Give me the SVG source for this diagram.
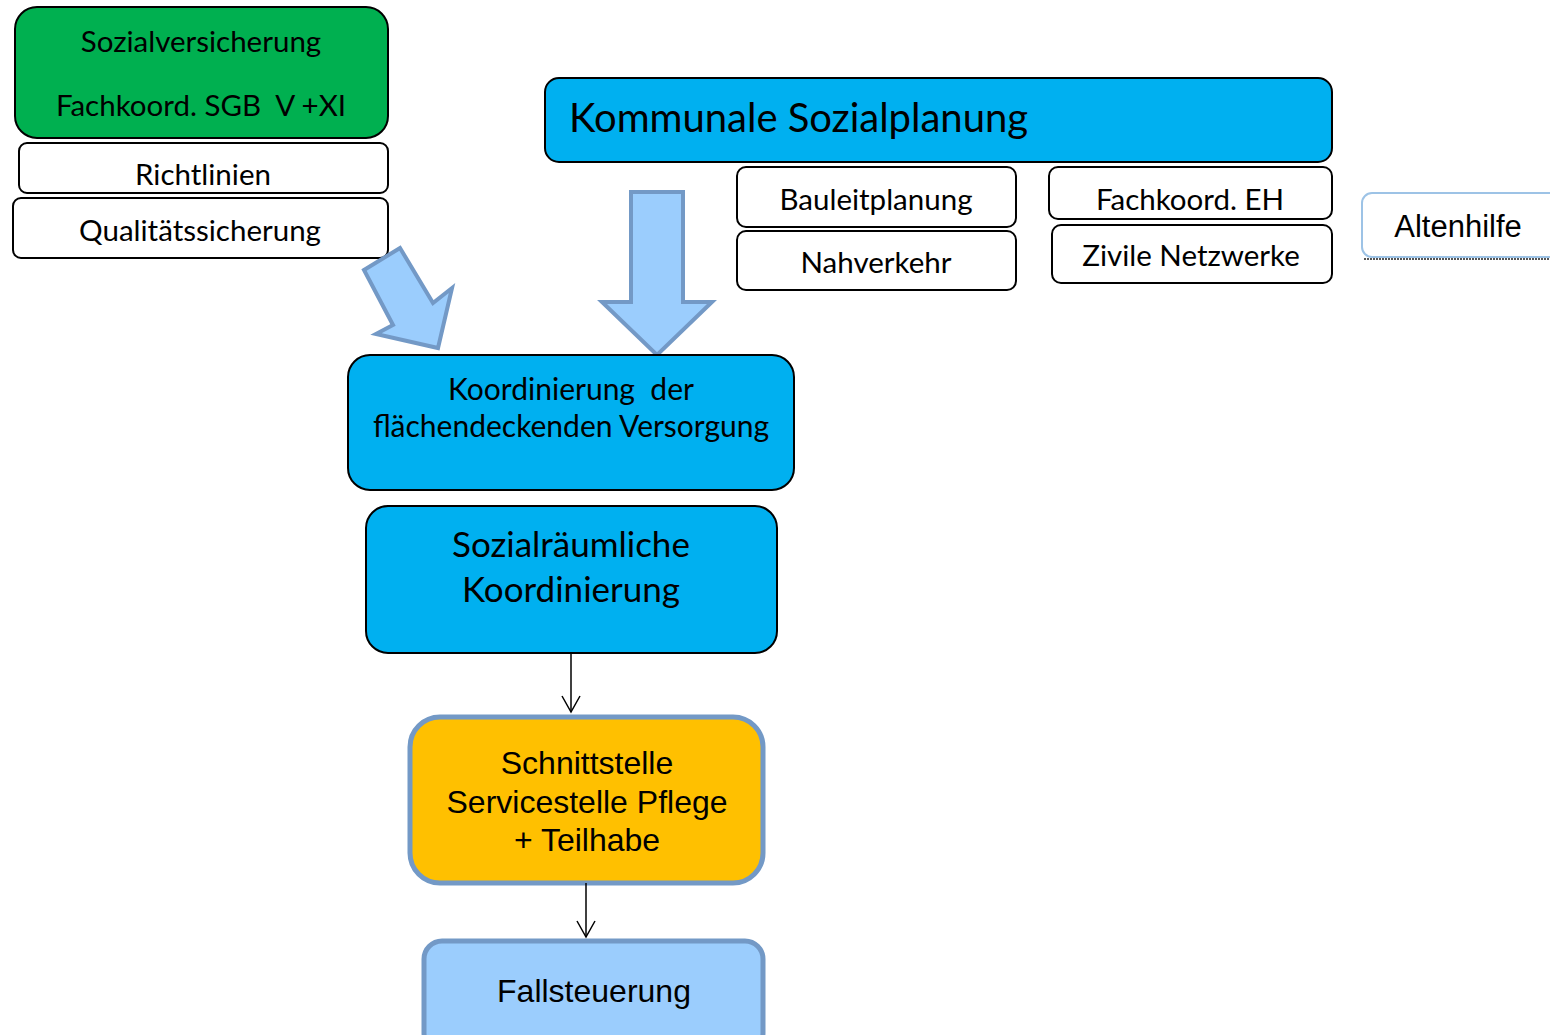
<svg xmlns="http://www.w3.org/2000/svg" width="1550" height="1035" viewBox="0 0 1550 1035">
<defs>
<style>
.c{font-family:Lato,"Open Sans","Liberation Sans",sans-serif;fill:#000}
.a{font-family:"Liberation Sans",Arial,sans-serif;fill:#000}
.box{stroke:#000;stroke-width:2}
.wb{fill:#fff;stroke:#000;stroke-width:2}
.blk{stroke:#7399C6;stroke-width:4;fill:#9BCDFD}
.conn{stroke:#000;stroke-width:1.5;fill:none}
</style>
<marker id="v" viewBox="0 0 20 20" refX="18" refY="10" markerWidth="20" markerHeight="20" markerUnits="userSpaceOnUse" orient="auto">
<path d="M2,1 L18,10 L2,19" fill="none" stroke="#000" stroke-width="1.5"/>
</marker>
</defs>
<rect width="1550" height="1035" fill="#fff"/>

<g id="sozialversicherung">
<rect class="box" x="15" y="7" width="373" height="131" rx="22" fill="#00B050"/>
<text class="c" x="201" y="52" font-size="29.5" text-anchor="middle">Sozialversicherung</text>
<text class="c" x="201" y="116" font-size="29.5" text-anchor="middle" xml:space="preserve">Fachkoord. SGB  V +XI</text>
</g>
<g id="richtlinien">
<rect class="wb" x="19" y="143" width="369" height="50" rx="8"/>
<text class="c" x="203" y="185" font-size="29.5" text-anchor="middle">Richtlinien</text>
</g>
<g id="qualitaet">
<rect class="wb" x="13" y="198" width="375" height="60" rx="8"/>
<text class="c" x="200" y="241" font-size="29.5" text-anchor="middle">Qualitätssicherung</text>
</g>

<g id="kommunale">
<rect class="box" x="545" y="78" width="787" height="84" rx="14" fill="#00B0F0"/>
<text class="c" x="569" y="132" font-size="40">Kommunale Sozialplanung</text>
</g>
<g id="bauleitplanung">
<rect class="wb" x="737" y="167" width="279" height="60" rx="9"/>
<text class="c" x="876" y="210" font-size="29.5" text-anchor="middle">Bauleitplanung</text>
</g>
<g id="nahverkehr">
<rect class="wb" x="737" y="231" width="279" height="59" rx="9"/>
<text class="c" x="876" y="273" font-size="29.5" text-anchor="middle">Nahverkehr</text>
</g>
<g id="fachkoord-eh">
<rect class="wb" x="1049" y="167" width="283" height="52" rx="9"/>
<text class="c" x="1190" y="210" font-size="29.5" text-anchor="middle">Fachkoord. EH</text>
</g>
<g id="zivile">
<rect class="wb" x="1052" y="225" width="280" height="58" rx="9"/>
<text class="c" x="1191" y="266" font-size="29.5" text-anchor="middle">Zivile Netzwerke</text>
</g>
<g id="altenhilfe">
<line x1="1364" y1="259" x2="1550" y2="259" stroke="#555" stroke-width="2" stroke-dasharray="2 1"/>
<rect x="1362" y="193" width="200" height="64" rx="10" fill="#fff" stroke="#9DC3E6" stroke-width="2"/>
<text class="a" x="1458" y="237" font-size="31" text-anchor="middle">Altenhilfe</text>
</g>

<g id="block-arrows">
<polygon class="blk" points="364,270 400,248 433,303 452,288 438,348 376,334 393,325"/>
<polygon class="blk" points="631,192 683,192 683,302 712,302 657,355 602,302 631,302"/>
</g>

<g id="koordinierung">
<rect class="box" x="348" y="355" width="446" height="135" rx="22" fill="#00B0F0"/>
<text class="c" x="571" y="400" font-size="30" text-anchor="middle" xml:space="preserve">Koordinierung  der</text>
<text class="c" x="571" y="437" font-size="30" text-anchor="middle">flächendeckenden Versorgung</text>
</g>
<g id="sozialraeumlich">
<rect class="box" x="366" y="506" width="411" height="147" rx="22" fill="#00B0F0"/>
<text class="c" x="571" y="557" font-size="35" text-anchor="middle">Sozialräumliche</text>
<text class="c" x="571" y="602" font-size="35" text-anchor="middle">Koordinierung</text>
</g>
<g id="schnittstelle">
<rect x="410" y="717" width="353" height="166" rx="30" fill="#FFC000" stroke="#7399C6" stroke-width="5"/>
<text class="a" x="587" y="774" font-size="32" text-anchor="middle">Schnittstelle</text>
<text class="a" x="587" y="813" font-size="32" text-anchor="middle">Servicestelle Pflege</text>
<text class="a" x="587" y="851" font-size="32" text-anchor="middle">+ Teilhabe</text>
</g>
<g id="fallsteuerung">
<rect x="424" y="941" width="339" height="110" rx="18" fill="#9BCDFD" stroke="#7399C6" stroke-width="5"/>
<text class="a" x="594" y="1002" font-size="32" text-anchor="middle">Fallsteuerung</text>
</g>

<g id="connectors">
<line class="conn" x1="571" y1="653" x2="571" y2="712" marker-end="url(#v)"/>
<line class="conn" x1="586" y1="883" x2="586" y2="937" marker-end="url(#v)"/>
</g>
</svg>
